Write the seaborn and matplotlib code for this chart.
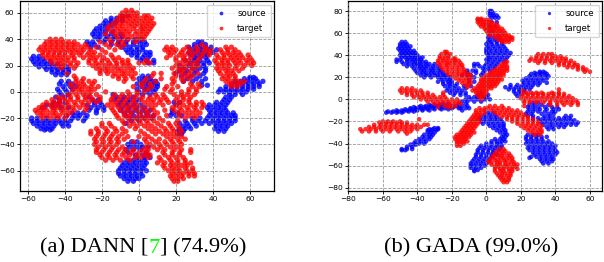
import pandas as pd
import seaborn as sns
from matplotlib import pyplot as plt

# t-SNE points, one (y, [x, ...]) per row
a_source_top = [(58,[-9,-6]),(56,[-15,-12,-9]),(54,[-18,-15,-12,-9]),(52,[-19,-16,-13]),(50,[-21,-18,-15]),(48,[-23,-20,-17]),
    (46,[-24,-21,-18,-14]),(44,[-25,-22,-19,-15,-10]),(42,[-24,-21,-17,-13,-9]),(40,[-22,-18,-14,-10,-6,-2,1]),
    (38,[-28,-25,-19,-15,-11,-7,-3,0,3]),(36,[-27,-24,-15,-11,-7,-3,1,4]),(34,[-26,-22,-9,-5,-1,2]),(32,[-7,-4,-1,2]),
    (30,[-6,-3,0,4,6]),(28,[-4,-1,3,6]),(26,[-1,2,5]),(24,[1,4,8]),(22,[5,8])]
a_source_right = [(38,[32,34]),(36,[30,33,36]),(34,[27,30,33,36,39]),(32,[28,31,34,38,42]),(30,[27,30,33,36,40]),(28,[28,31,34,37]),
    (26,[30,33,36]),(24,[25,30,33,37]),(22,[28,32,35,38]),(20,[22,27,31,35]),(18,[24,29,33,36]),(16,[22,26,31,36]),
    (14,[20,25,30,35]),(12,[23,28,33]),(10,[26,31,36]),(8,[24,29,34]),(5,[34,37]),
    (11,[60,62]),(10,[57,60,63]),(8,[52,55,58,61,64,67]),(6,[50,53,56,59,62,65]),(4,[47,50,53,56,59,62,65]),
    (2,[44,47,50,53,56,59,62]),(0,[43,46,49,52,55,58]),(-2,[49,52,56]),(-4,[47,50]),(-6,[46,49]),(-8,[19,22,42,45,48]),
    (-10,[20,38,41,44,47]),(-12,[37,40,43,46]),(-14,[18,38,41,44,47]),(-16,[18,21,39,42,45,48,51]),(-18,[17,20,23,38,41,44,47,50,52]),
    (-20,[29,33,37,40,43,46,49,52]),(-22,[25,29,32,36,40,43,46,49,52]),(-24,[22,26,30,34,38,41,44,47,50]),
    (-26,[24,27,31,42,45,48]),(-28,[22,25,28,41,44,47]),(-30,[21,24,43,46]),(-32,[21,23])]
a_source_left = [(27,[-57,-54]),(25,[-58,-55,-52]),(23,[-57,-54,-51,-48]),(21,[-56,-53,-50,-47,-44]),(19,[-54,-51,-48,-45,-42,-39]),
    (17,[-50,-47,-44,-41,-38]),(15,[-47,-44,-41,-38]),(13,[-45,-42,-39]),
    (8,[-42,-38]),(6,[-43,-39,-36]),(4,[-41,-37,-34]),(2,[-44,-40,-36]),(0,[-43,-39]),(-2,[-42,-38]),(-4,[-45,-40,-27]),
    (-6,[-43,-25,-22]),(-8,[-46,-43,-40,-24,-21]),(-10,[-50,-47,-44,-28,-24,-20]),(-12,[-52,-46,-42,-38,-26,-22,-19]),
    (-14,[-27,-23,-19]),(-16,[-36,-33,-30,-23]),(-18,[-39,-35,-32,-28]),(-20,[-58,-55,-50,-44,-40,-36,-33,-29]),
    (-22,[-58,-55,-52,-49,-46,-43,-40,-37,-30]),(-24,[-57,-54,-51,-48,-45,-42,-39]),(-26,[-55,-52,-49,-46,-41,-38]),
    (-28,[-53,-50,-47]),(-29,[-51,-48])]
a_source_mid = [(12,[2,5]),(10,[0,3,6]),(8,[1,4,7,9]),(6,[-1,2,5,8,10]),(4,[1,4,7,10]),(2,[-1,3,6,9]),(0,[0,4,8]),(-2,[-14,2,6]),
    (-4,[-12,-8,-3]),(-6,[-13,-9,-5,0]),(-8,[-10,-6,-2]),(-10,[-11,-7,-3,1]),(-12,[-9,-5,-1,3]),(-14,[-10,-6,-2,2,6]),
    (-16,[-8,-4,0,4]),(-18,[-7,-3,1,5,8]),(-20,[-5,-1,3,7]),(-22,[-4,0]),(-24,[-7]),
    (-38,[-4,-1]),(-40,[-6,-3,1]),(-42,[-5,-1,2,5]),(-44,[-7,-3,1]),(-46,[-6,4]),(-48,[-2,2,5]),(-50,[-1,3,6]),(-52,[-6,-3,0,3]),
    (-54,[-8,-5,-2,1,4]),(-56,[-9,-6,-3,0,3]),(-58,[-10,-7,-4,-1,2]),(-60,[-11,-8,-5,-2,1,4]),(-62,[-11,-8,-5,-2,1]),
    (-64,[-10,-7,-4,-1,2]),(-66,[-8,-5,-2,0]),(-68,[-6,-3])]
a_target = [(62,[-7,-4]),(60,[-9,-6,-3,-1]),(58,[-10,-7,-4,-1,3,5]),(56,[-11,-8,-5,-2,1,4,7]),(54,[-12,-9,-6,-3,0,3,6]),
    (52,[-14,-10,-7,-4,-1,2,5,8]),(50,[-16,-12,-9,-5,-2,1,4,7]),(48,[-17,-13,-10,-7,-3,1,3,6]),(46,[-15,-11,-8,-5,-1,2,5]),
    (44,[-18,-13,-9,-6,-2,1,4]),(42,[-12,-8,-4,0,3]),(40,[-48,-45,-42,-16,-11,-6,-1,2]),(38,[-50,-47,-44,-41,-38,-35,-21,-15,-9,-2]),
    (36,[-51,-48,-45,-42,-39,-36,-33,-29,-18,-12,-8,34]),(34,[-53,-50,-47,-44,-41,-38,-35,-31,-28,-23,-16,-10,15,18,26,31,36,47,50]),
    (32,[-54,-51,-48,-45,-42,-39,-36,-33,-30,-26,-20,-13,14,17,20,24,28,32,36,39,44,48,52]),
    (30,[-52,-49,-46,-43,-40,-37,-34,-31,-27,-24,-18,16,19,23,27,31,35,38,45,48,51,54]),
    (28,[-52,-49,-46,-43,-40,-36,-32,-28,-25,-21,-15,17,22,25,29,34,38,42,46,49,52,55,59]),
    (26,[-50,-47,-44,-41,-38,-35,-30,-26,-23,-19,-14,-11,15,20,24,28,33,43,46,50,53,56,60]),
    (24,[-48,-45,-42,-39,-35,-27,-24,-20,-17,-13,-9,-6,4,20,24,27,32,41,45,48,51,54,58,61]),
    (22,[-47,-43,-40,-37,-33,-27,-23,-20,-16,-12,-9,-6,0,3,6,22,26,30,42,45,48,52,55,59,62]),
    (20,[-44,-41,-37,-34,-25,-22,-18,-15,-12,-8,-5,20,24,28,32,43,46,49,53,57,61]),
    (18,[-42,-35,-23,-20,-17,-13,-10,-6,-3,18,22,25,30,42,45,48,52,56]),(16,[-21,-18,-15,-11,-8,-4,21,24,28,43,47,50,54]),
    (14,[-39,-21,-17,-13,-9,-6,-2,8,12,19,23,27,32,44,48,51]),(12,[-35,-14,-11,-8,-4,7,20,25,29,46,49,52]),
    (10,[-34,-30,-11,-7,-3,4,12,18,23,27,45,48,52]),(8,[-34,-31,-27,-24,-8,3,9,19,24,47,50,54,57]),
    (6,[-37,-33,-30,-25,1,6,18,28,32,49,52,55]),(4,[-36,-32,-29,-26,-22,-3,2,7,15,21,29,33,50,53]),
    (2,[-34,-31,-27,-24,5,14,18,27,31]),(0,[-36,-32,-29,-26,-18,-6,-1,3,17,23,27,31]),
    (-2,[-38,-34,-30,-27,-23,-13,-9,-5,-1,9,13,19,23,26,30]),(-4,[-44,-41,-37,-33,-29,-26,-21,-14,-10,-6,-2,2,6,10,14,21,24,28]),
    (-6,[-47,-43,-40,-37,-33,-29,-25,-21,-15,-11,-7,-3,1,5,8,12,15,20,24,27]),
    (-8,[-50,-46,-43,-39,-35,-31,-27,-23,-15,-12,-8,-3,3,7,11,16,22,27,31,34]),
    (-10,[-52,-48,-45,-42,-38,-34,-30,-17,-13,-9,-5,-1,5,9,13,20,24,28,31,35]),
    (-12,[-54,-51,-47,-44,-40,-36,-32,-28,-15,-11,-7,-3,2,7,18,22,26,30,34]),
    (-14,[-56,-53,-50,-46,-42,-39,-35,-29,-14,-10,-6,-1,4,8,14,19,23,27,31]),
    (-16,[-55,-52,-48,-45,-41,-37,-13,-8,-4,1,5,10,21,25,29,33]),(-18,[-53,-50,-46,-43,-39,-12,-8,-5,0,4,8,15,22,27,31]),
    (-20,[-52,-48,-44,-40,-11,-6,-2,2,6,11,25,30]),(-22,[-9,-5,0,4,8,13,21]),(-24,[-20,-16,-8,-3,1,5,10,16,20]),
    (-26,[-20,-15,-5,-1,3,7,12,17,21]),(-28,[-23,-18,-13,-9,-2,5,9,14,18,22]),(-30,[-26,-22,-17,-12,-7,1,7,11,15,19,23]),
    (-32,[-26,-22,-18,-14,-9,3,9,13,17,21]),(-34,[-23,-19,-15,-11,-6,0,5,15,19,23]),(-36,[-24,-20,-16,-12,-8,3,7,11,17,21,25]),
    (-38,[-23,-19,-15,-11,-3,4,9,14,18,22]),(-40,[-24,-20,-16,-12,6,11,15,19,23]),(-42,[-22,-18,-14,-9,4,8,12,17,21]),
    (-44,[-23,-19,-15,-11,-7,-3,2,5,10,14,19,23,28]),(-46,[-23,-20,-16,-12,-8,-4,0,4,13,18,22,28]),
    (-48,[-21,-17,-13,-9,-5,-1,3,6,14,18,22]),(-50,[-20,-16,-12,-7,-2,1,5,11,16,20,24]),(-52,[-18,-14,-10,-5,12,17,21,25]),
    (-54,[10,14,18,21,25,28]),(-56,[13,17,20,23,26]),(-58,[14,18,21,25,29]),(-60,[16,19,22,26,29]),(-62,[18,21,24,27,30]),
    (-64,[17,20,23,27,30]),(-66,[18,21,24]),(-68,[19,21])]

b_source_top = [(80,[2,3]),(78,[2,4]),(76,[2,4,6]),(74,[3,5,7]),(70,[3,6]),(66,[2,5]),(62,[3]),(58,[2,7]),(56,[1,4,7]),(54,[2,5,8]),
    (52,[1,3,6,9]),(50,[0,3,6,9]),(48,[1,4,7,10]),(46,[0,2,5,8,11]),(44,[0,3,6,9,12]),(42,[0,2,5,8,11,14]),(40,[1,4,7,10,13]),
    (38,[1,3,6,9,12]),(36,[0,2,5,8,11]),(34,[1,4,7,10]),(32,[0,3,6]),(30,[-1,2,5]),(28,[-2,1,4]),(26,[-1,2]),(24,[-2]),(22,[-3])]
b_source_left = [(52,[-49,-47]),(50,[-50,-48,-46]),(48,[-50,-48,-46,-44]),(46,[-51,-49,-47,-45]),(44,[-50,-48,-46,-44,-42]),
    (42,[-49,-47,-45,-43,-41]),(40,[-50,-48,-46,-44,-42,-40]),(38,[-49,-47,-45,-43,-41,-39,-37]),(36,[-52,-50,-46,-44,-42,-40,-38]),
    (34,[-52,-49,-46,-43,-41,-39,-37,-35]),(32,[-48,-45,-42,-40,-38,-35,-33,-30,-7,-5]),(30,[-46,-43,-40,-38,-36,-34,-31,-28,-7,-4]),
    (28,[-42,-39,-37,-35,-32,-30,-27]),(26,[-41,-38,-36,-33,-31,-28,-26,-11,-8,-6]),(24,[-40,-37,-35,-32,-30,-27,-25,-11,-6]),
    (22,[-38,-35,-33,-30,-28,-25,-23,-14,-11,-9]),(20,[-36,-32,-28,-26,-24,-21,-10,-7]),(18,[-26,-23,-21,-10]),
    (16,[-28,-25,-22,-20,-10,-7]),(14,[-25,-22,-20,-17]),(12,[-24,-21,-18,-13,-9]),(10,[-22,-19,-16,-12]),(8,[-23,-20,-17,-14]),
    (6,[-21,-18,-15,-12,-3]),(4,[-19,-15,-12,-5,-3,1]),(2,[-10,-7,-5,-2,0]),(0,[-12,-9,-5,-1,2]),(-2,[-14,-11,-7,-3]),(-4,[-25,-22,-16,-12]),
    (-5,[-33,-30,-27]),(-6,[-38,-35,-32,-28,-24,-20,-17,-14,-11]),(-7,[-42,-39,-36,-33,-30,-26,-22,-19]),
    (-8,[-44,-41,-38,-35,-31,-27,-24,-20,-16,-15,-12,-10]),(-9,[-47,-44,-41,-37,-34,-30,-26,-22]),
    (-10,[-52,-49,-46,-43,-40,-37,-33,-14]),(-11,[-57,-54,-51,-48,-45,-42]),(-12,[-58,-55,-52,-49]),
    (-26,[-30,-28]),(-27,[-33,-31,-28]),(-28,[-34,-32,-29]),(-30,[-34,-32,-30]),(-32,[-36,-33,-31]),(-34,[-37,-34,-32]),
    (-36,[-39,-36,-33]),(-38,[-41,-38,-35]),(-40,[-42,-39,-36]),(-41,[-44,-41]),(-43,[-46,-43]),(-45,[-49,-46,-43]),(-46,[-49,-47])]
b_source_low = [(-12,[1,4]),(-14,[-1,2,5]),(-16,[-3,0,3,6]),(-18,[-4,-1,2,5,8]),(-20,[-3,0,3,6,9]),(-22,[-2,1,4,7,10]),(-24,[2,5,8,10]),
    (-26,[4,7,10]),(-28,[6,9,11]),(-30,[8,11]),(-32,[10,12]),(-34,[9,11]),(-36,[5,8,10]),(-38,[3,6,9,11]),(-40,[0,3,6,8]),
    (-42,[-3,0,3,6,9]),(-44,[-4,-1,2,5,8]),(-46,[-5,-2,1,4,7]),(-48,[-5,-2,1,4]),(-50,[-6,-3,0,3,6]),(-52,[-6,-3,0,3]),
    (-54,[-7,-4,-1,2]),(-56,[-8,-5,-2,1]),(-58,[-9,-6,-3,0]),(-60,[-9,-7,-4,-1]),(-62,[-9,-6,-3]),(-64,[-7,-5]),(-65,[-7])]
b_source_right = [(25,[31,33]),(24,[28,31,34]),(23,[26,29,32,35]),(21,[25,28,31,34,36]),(19,[23,26,29,32,35]),(17,[21,24,27,30,33]),
    (15,[22,25,28,31,35]),(13,[14,18,21,24,27,30]),(11,[11,14,17,20,23,26]),(9,[13,16,19,22,25]),(7,[16,19,22]),(5,[17,20]),(3,[18]),
    (-3,[27,30]),(-5,[25,28,32,36]),(-7,[24,27,30,34,38,41]),(-9,[25,28,31,35,39,42]),(-11,[24,27,30,34,38,40]),(-13,[23,26,32,36,39]),
    (-15,[24,27,34,37,46,49]),(-17,[27,30,33,36,39,42,45,48]),(-19,[27,31,34,37,40,43,46,49,51]),(-21,[32,35,38,41,44,47,50,53]),
    (-23,[33,37,40,43,46,49,52]),(-25,[35,38,42,45]),(-27,[36,39]),
    (-32,[24,27,30]),(-34,[23,26,29,32,35]),(-36,[23,26,29,32]),(-38,[24,27,30,33,36]),(-40,[23,26,29,32,35,38]),(-42,[25,28,31,34,37,40]),
    (-44,[24,27,30,33,36,39]),(-46,[25,28,31,34,37,40]),(-48,[27,30,33,36,39,41]),(-50,[28,31,34,37,40]),(-52,[26,29,32,35,38]),
    (-53,[25]),(-54,[31,34,37,39]),(-56,[32,35,38]),(-58,[33,36])]
b_target_top = [(73,[-5,-3]),(72,[-5,-3,-1,1]),(70,[-5,-3,-1,1,3]),(68,[-4,-2,0,2,4,6]),(66,[-3,-1,1,3,5,7]),(64,[-1,1,3,5,7,9]),
    (62,[0,2,4,6,8,10]),(60,[1,3,5,7,9,11]),(58,[2,5,7,9,11,13]),(56,[5,8,10,12,14,15]),(54,[7,9,11,13,15]),(52,[9,11,13]),
    (41,[30,33,36,38]),(39,[29,32,35,38,40,43]),(37,[26,29,32,35,38,41,44,46]),(35,[25,28,31,34,37,40,43,46,49]),
    (33,[30,34,38,42,45,48,51]),(31,[42,45,48,51,53]),(29,[47,50,53,56]),(27,[53,56,58]),(25,[57,60])]
b_target_upleft = [(43,[-24,-23]),(41,[-26,-23,-21]),(39,[-27,-24,-22]),(37,[-27,-25,-22,-19,-18]),(35,[-28,-25,-23,-20,-18,-16]),
    (33,[-28,-26,-23,-21,-18,-15]),(31,[-27,-24,-22,-19,-16,-14]),(29,[-26,-23,-20,-17,-14]),(27,[-25,-22,-19,-16,-13]),
    (25,[-23,-20,-17,-14,-12]),(23,[-22,-19,-16,-13,-10]),(21,[-20,-17,-14,-11,-9]),(19,[-18,-15,-12,-9]),(17,[-16,-13,-10]),
    (15,[-14,-11,-9]),(13,[-12,-10]),(11,[-11])]
b_target_wedge = [(34,[11,12]),(32,[9,11]),(30,[8,10,12]),(28,[6,8,10,12]),(26,[4,6,8,10,12]),(24,[2,4,6,8,10]),(22,[0,2,4,6,8,10]),
    (20,[-2,0,2,4,6,8]),(18,[-3,-1,1,3,5,7,9]),(16,[-3,-1,1,3,5,7]),(14,[-4,-2,0,2,4,6]),(12,[-5,-3,-1,1,3,5]),(10,[-7,-5,-3,-1,1,3]),
    (8,[-8,-6,-4,-2,0]),(6,[-6,-4,-2,0]),(4,[-5,-3,-1]),(2,[-4,-2]),(0,[-3])]
b_target_left = [(10,[-49,-46,-43]),(8,[-50,-47,-44,-41,-38]),(6,[-49,-46,-43,-40,-37,-34,-25]),(4,[-46,-43,-40,-37,-34,-31,-25]),
    (2,[-42,-39,-36,-33,-30,-27,-24]),(0,[-38,-35,-32,-29,-26,-23,-20,-17]),(-2,[-34,-31,-28,-25,-22,-19,-16]),
    (-4,[-30,-27,-24,-21,-18,-15]),(-6,[-24,-21,-18]),(-7,[-28,-22,-20]),
    (-18,[-39]),(-20,[-60,-57,-54,-50]),(-21,[-62,-58,-55,-52,-49,-46]),(-23,[-65,-61,-58,-55,-52,-49,-46,-43,-40,-36,-34]),
    (-25,[-68,-65,-62,-59,-56,-53,-50,-47,-44,-41,-38]),(-27,[-73,-70,-67,-64,-61,-58,-55,-52,-49,-46,-43,-40]),
    (-29,[-72,-68,-64,-60,-56,-51,-47,-44]),(-31,[-46])]
b_target_low = [(-8,[-4,-1]),(-10,[-6,-3,-1]),(-12,[-6,-4,-1]),(-14,[-7,-5,-3]),(-16,[-8,-6,-4]),(-18,[-9,-7,-5]),(-20,[-10,-8,-6,-4]),
    (-22,[-11,-9,-7,-5]),(-24,[-12,-10,-8,-6]),(-26,[-13,-11,-9,-7]),(-28,[-14,-12,-10,-8]),(-30,[-15,-13,-11,-9,-7]),
    (-32,[-17,-15,-13,-11,-9]),(-34,[-18,-16,-14,-12,-10]),(-36,[-18,-16,-14,-12]),(-38,[-17,-15,-13,-11]),(-40,[-17,-15,-13]),(-42,[-17,-15]),
    (-45,[8,10]),(-47,[6,9,11]),(-49,[5,8,10,13]),(-51,[4,7,9,12,14]),(-53,[3,5,8,10,13,15]),(-55,[2,5,7,10,12,15]),
    (-57,[1,3,6,8,11,14,16]),(-59,[3,6,8,11,13,16,18]),(-61,[5,7,10,12,15,17]),(-63,[5,8,10,13,15,18]),(-65,[5,8,10,13,15]),
    (-67,[6,9,11,14]),(-69,[7,9,12,14]),(-71,[8,10,13]),(-73,[9,11,13]),(-75,[10,12])]
b_target_right = [(-6,[2,5,9]),(-8,[1,4,7,10,13]),(-10,[3,6,9,12,15,18]),(-12,[5,8,11,14,17,20]),(-14,[7,10,13,16,19,22]),
    (-16,[9,12,15,18,21,24]),(-18,[12,15,18,21,24,27]),(-20,[15,18,21,24,27,30]),(-22,[18,21,24,27,30]),(-24,[20,23,26,29,32]),
    (-26,[22,25,28,31]),(-28,[24,27,30,32]),(-30,[26,29,32]),(-32,[28,31]),
    (9,[42]),(8,[21]),(6,[23,26,29,32,38,42]),(5,[21,24,27,30,33,36,39,42,45]),(3,[21,24,27,30,33,36,39,42,45,48]),
    (1,[20,23,26,29,32,35,38,41,44,47,50]),(-1,[22,25,28,31,34,37,40,43,46,49,52]),(-3,[22,25,29,33,37,41,44,47,50,53]),
    (-5,[37,41,45,49,53]),(-6,[22])]

a_xticks = [-60, -40, -20, 0, 20, 40, 60]
a_yticks = [-60, -40, -20, 0, 20, 40, 60]
b_xticks = [-80, -60, -40, -20, 0, 20, 40, 60]
b_yticks = [-80, -60, -40, -20, 0, 20, 40, 60, 80]

W, H = 604, 262


def to_frame(source, target):
    recs = []
    for rows, name in ((source, 'source'), (target, 'target')):
        for y, xs in rows:
            for x in xs:
                recs.append((x, y, name))
    return pd.DataFrame(recs, columns=['x', 'y', 'domain'])


def panel(fig, box, df, xlim, ylim, xticks, yticks, size):
    l, t, r, b = box
    ax = fig.add_axes([l/W, 1-b/H, (r-l)/W, (b-t)/H])
    sns.scatterplot(data=df, x='x', y='y', hue='domain', palette={'source': 'blue', 'target': 'red'},
                    s=size, alpha=0.8, linewidth=0, ax=ax)
    ax.set_xlim(xlim); ax.set_ylim(ylim)
    ax.set_xticks(xticks); ax.set_yticks(yticks)
    ax.set_xlabel(''); ax.set_ylabel('')
    ax.tick_params(labelsize=5.4, length=2, width=0.6, pad=2)
    ax.grid(True, color='gray', ls='--', lw=0.6, alpha=0.8)
    ax.set_axisbelow(False)
    for s in ax.spines.values():
        s.set_linewidth(0.9)
    ax.legend(loc='upper right', fontsize=6.2, markerscale=0.7, handletextpad=0.9, labelspacing=0.6,
              borderpad=0.55, borderaxespad=0.4, title=None)
    return ax


def caption(fig, x, y, parts):
    prev = None
    for txt, col in parts:
        if prev is None:
            prev = fig.text(x/W, 1-y/H, txt, color=col, fontsize=16.2, family='Liberation Serif', va='center', ha='left')
        else:
            prev = plt.annotate(txt, xy=(1, 0), xycoords=prev, xytext=(0, 0), textcoords='offset points', color=col,
                                fontsize=16.2, family='Liberation Serif', va='bottom', ha='left', annotation_clip=False)


fig = plt.figure(figsize=(W/100, H/100), dpi=100)
ax1 = panel(fig, (20, 1.3, 274, 190.7), to_frame(a_source_top + a_source_right + a_source_left + a_source_mid, a_target),
            (-64.3, 73), (-75.2, 68.9), a_xticks, a_yticks, 15)
ax2 = panel(fig, (348.3, 1.3, 602, 190.7),
            to_frame(b_source_top + b_source_left + b_source_low + b_source_right,
                     b_target_top + b_target_upleft + b_target_wedge + b_target_left + b_target_low + b_target_right),
            (-79.5, 67), (-82.7, 88.8), b_xticks, b_yticks, 11)

plt.sca(ax1)
caption(fig, 40, 248, [('(a) DANN [', 'black'), ('7', '#00ff00'), ('] (74.9%)', 'black')])
caption(fig, 383.7, 248, [('(b) GADA (99.0%)', 'black')])

plt.savefig('out.png', dpi=100)
